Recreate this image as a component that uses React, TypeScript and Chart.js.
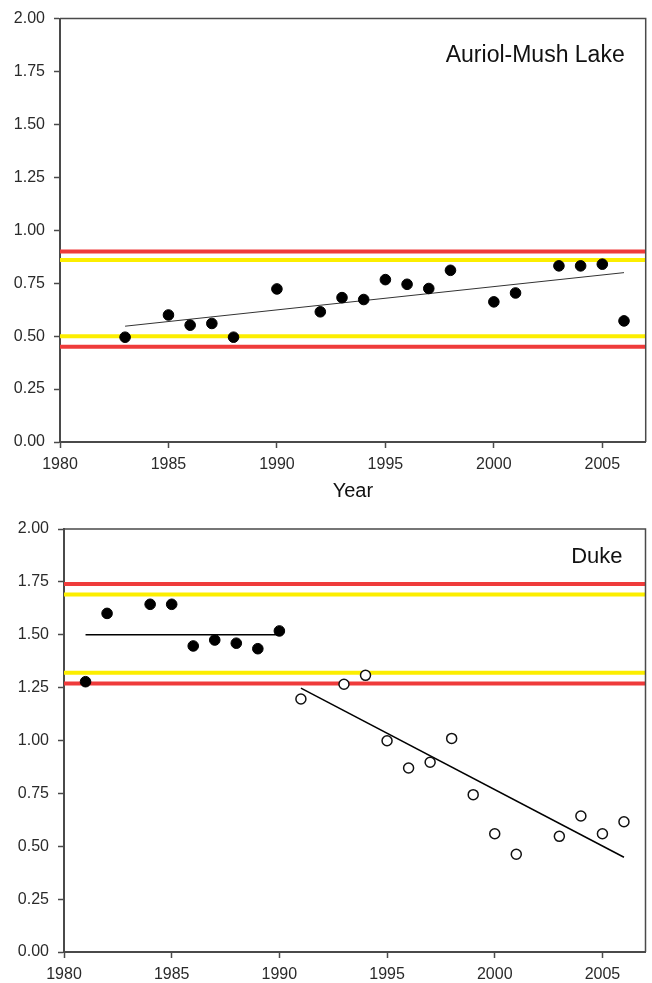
import React, { useEffect, useRef } from "react";
import { Chart, registerables } from "chart.js";

Chart.register(...registerables);

const FONT = "'Liberation Sans', Arial, Helvetica, sans-serif";

const X_TICKS = [1980, 1985, 1990, 1995, 2000, 2005];
const Y_TICKS = [0, 0.25, 0.5, 0.75, 1, 1.25, 1.5, 1.75, 2];
const X_MIN = 1980;
const X_MAX = 2007;
const Y_MIN = 0;
const Y_MAX = 2;

const AURIOL_TITLE = "Auriol-Mush Lake";
const AURIOL_YEARS = [1983, 1985, 1986, 1987, 1988, 1990, 1992, 1993, 1994, 1995, 1996, 1997, 1998, 2000, 2001, 2003, 2004, 2005, 2006];
const AURIOL_VALUES = [0.495, 0.6, 0.552, 0.56, 0.495, 0.723, 0.615, 0.682, 0.673, 0.767, 0.745, 0.725, 0.811, 0.662, 0.704, 0.832, 0.832, 0.84, 0.572];
const AURIOL_TREND_YEARS = [1983, 2006];
const AURIOL_TREND_VALUES = [0.547, 0.8];
const AURIOL_RED = [0.9, 0.45];
const AURIOL_YELLOW = [0.86, 0.5];

const DUKE_TITLE = "Duke";
const DUKE_EARLY_YEARS = [1981, 1982, 1984, 1985, 1986, 1987, 1988, 1989, 1990];
const DUKE_EARLY_VALUES = [1.278, 1.601, 1.644, 1.644, 1.447, 1.475, 1.46, 1.434, 1.518];
const DUKE_EARLY_TREND_YEARS = [1981, 1990];
const DUKE_EARLY_TREND_VALUES = [1.5, 1.5];
const DUKE_LATE_YEARS = [1991, 1993, 1994, 1995, 1996, 1997, 1998, 1999, 2000, 2001, 2003, 2004, 2005, 2006];
const DUKE_LATE_VALUES = [1.196, 1.266, 1.308, 0.999, 0.87, 0.897, 1.01, 0.744, 0.559, 0.462, 0.547, 0.643, 0.559, 0.616];
const DUKE_LATE_TREND_YEARS = [1991, 2006];
const DUKE_LATE_TREND_VALUES = [1.248, 0.448];
const DUKE_RED = [1.74, 1.27];
const DUKE_YELLOW = [1.69, 1.32];

const RED = "#ef3b3b";
const YELLOW = "#fcee00";
const AXIS = "#4a4a4a";

const pts = (xs: number[], ys: number[]) => xs.map((x, i) => ({ x, y: ys[i] }));

const framePlugin = {
  id: "frameAndLabel",
  afterDatasetsDraw(chart: any, _args: any, opts: any) {
    const { ctx, chartArea: a } = chart;
    ctx.save();
    ctx.strokeStyle = AXIS;
    ctx.lineWidth = 1.5;
    ctx.beginPath();
    ctx.moveTo(a.left, a.top);
    ctx.lineTo(a.right, a.top);
    ctx.lineTo(a.right, a.bottom);
    ctx.stroke();
    ctx.font = `${opts.size}px ${FONT}`;
    ctx.fillStyle = "#111";
    ctx.textAlign = "right";
    ctx.textBaseline = "alphabetic";
    ctx.fillText(opts.label, a.right - opts.dx, a.top + opts.dy);
    ctx.restore();
  },
};

function refLine(v: number, color: string) {
  return {
    type: "scatter",
    data: [{ x: X_MIN, y: v }, { x: X_MAX, y: v }],
    showLine: true,
    borderColor: color,
    borderWidth: 4,
    pointRadius: 0,
    order: 3,
  };
}

function trendLine(xs: number[], ys: number[], width: number, color: string) {
  return {
    type: "scatter",
    data: pts(xs, ys),
    showLine: true,
    borderColor: color,
    borderWidth: width,
    pointRadius: 0,
    order: 2,
  };
}

function makeConfig(p: {
  datasets: any[];
  label: string;
  size: number;
  dx: number;
  dy: number;
  padTop: number;
  padRight: number;
  yWidth: number;
  xHeight: number;
  xTitle?: string;
}) {
  return {
    type: "scatter",
    data: { datasets: p.datasets },
    plugins: [framePlugin],
    options: {
      animation: false,
      responsive: false,
      devicePixelRatio: 1,
      layout: { padding: { top: p.padTop, right: p.padRight, left: 0, bottom: 0 } },
      plugins: {
        legend: { display: false },
        tooltip: { enabled: false },
        frameAndLabel: { label: p.label, size: p.size, dx: p.dx, dy: p.dy },
      },
      scales: {
        x: {
          type: "linear",
          min: X_MIN,
          max: X_MAX,
          afterBuildTicks: (s: any) => {
            s.ticks = X_TICKS.map((v) => ({ value: v }));
          },
          afterFit: (s: any) => {
            s.height = p.xHeight;
          },
          ticks: {
            font: { family: FONT, size: 16 },
            color: "#2a2a2a",
            padding: 7,
            maxRotation: 0,
            callback: (v: any) => String(v),
          },
          grid: {
            drawOnChartArea: false,
            drawTicks: true,
            tickLength: 6,
            tickWidth: 1.5,
            tickColor: AXIS,
          },
          border: { display: true, color: AXIS, width: 2 },
          title: p.xTitle
            ? {
                display: true,
                text: p.xTitle,
                font: { family: FONT, size: 20 },
                color: "#111",
                padding: { top: 0, bottom: 7 },
              }
            : { display: false },
        },
        y: {
          type: "linear",
          min: Y_MIN,
          max: Y_MAX,
          afterBuildTicks: (s: any) => {
            s.ticks = Y_TICKS.map((v) => ({ value: v }));
          },
          afterFit: (s: any) => {
            s.width = p.yWidth;
          },
          ticks: {
            font: { family: FONT, size: 16 },
            color: "#2a2a2a",
            padding: 9,
            callback: (v: any) => Number(v).toFixed(2),
          },
          grid: {
            drawOnChartArea: false,
            drawTicks: true,
            tickLength: 6,
            tickWidth: 1.5,
            tickColor: AXIS,
          },
          border: { display: true, color: AXIS, width: 2 },
        },
      },
    },
  } as any;
}

export default function App() {
  const topRef = useRef<HTMLCanvasElement>(null);
  const botRef = useRef<HTMLCanvasElement>(null);

  useEffect(() => {
    const topDatasets = [
      {
        type: "scatter",
        data: pts(AURIOL_YEARS, AURIOL_VALUES),
        pointRadius: 5.3,
        pointBackgroundColor: "#000",
        pointBorderColor: "#000",
        pointBorderWidth: 1,
        order: 0,
      },
      trendLine(AURIOL_TREND_YEARS, AURIOL_TREND_VALUES, 1, "#333"),
      ...AURIOL_RED.map((v) => refLine(v, RED)),
      ...AURIOL_YELLOW.map((v) => refLine(v, YELLOW)),
    ];
    const botDatasets = [
      {
        type: "scatter",
        data: pts(DUKE_EARLY_YEARS, DUKE_EARLY_VALUES),
        pointRadius: 5.3,
        pointBackgroundColor: "#000",
        pointBorderColor: "#000",
        pointBorderWidth: 1,
        order: 0,
      },
      {
        type: "scatter",
        data: pts(DUKE_LATE_YEARS, DUKE_LATE_VALUES),
        pointRadius: 5,
        pointBackgroundColor: "#fff",
        pointBorderColor: "#111",
        pointBorderWidth: 1.5,
        order: 0,
      },
      trendLine(DUKE_EARLY_TREND_YEARS, DUKE_EARLY_TREND_VALUES, 1.5, "#000"),
      trendLine(DUKE_LATE_TREND_YEARS, DUKE_LATE_TREND_VALUES, 1.5, "#000"),
      ...DUKE_RED.map((v) => refLine(v, RED)),
      ...DUKE_YELLOW.map((v) => refLine(v, YELLOW)),
    ];

    const c1 = new Chart(
      topRef.current!,
      makeConfig({
        datasets: topDatasets,
        label: AURIOL_TITLE,
        size: 23,
        dx: 21,
        dy: 43,
        padTop: 18,
        padRight: 5,
        yWidth: 60,
        xHeight: 68,
        xTitle: "Year",
      })
    );
    const c2 = new Chart(
      botRef.current!,
      makeConfig({
        datasets: botDatasets,
        label: DUKE_TITLE,
        size: 22,
        dx: 23,
        dy: 34,
        padTop: 19,
        padRight: 1,
        yWidth: 64,
        xHeight: 31,
      })
    );
    return () => {
      c1.destroy();
      c2.destroy();
    };
  }, []);

  return (
    <div style={{ position: "absolute", left: 0, top: 0, width: 652, height: 983, background: "#fff" }}>
      <canvas ref={topRef} width={652} height={510} style={{ display: "block" }} />
      <canvas ref={botRef} width={652} height={473} style={{ display: "block" }} />
    </div>
  );
}
